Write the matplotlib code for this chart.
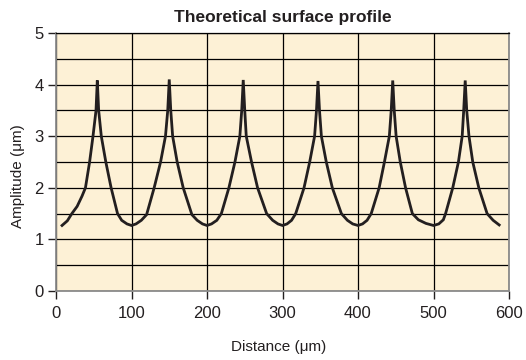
import matplotlib
matplotlib.use('Agg')
import matplotlib.pyplot as plt

# Perfil (distancia en um, amplitud en um)
distancia = [8, 15, 21, 28, 34.5, 39, 44.5, 49, 53, 54.7,
             56.5, 60, 66, 73, 81.5, 87, 94, 100, 106, 113, 120,
             130, 138.5, 145, 148, 150, 152, 154.5, 160.5, 168.5, 180,
             187, 194, 200, 206, 213, 219,
             229, 237, 243.5, 246, 248, 250, 252, 259, 267, 279,
             287, 294, 300, 306, 312, 317.5,
             328.5, 336, 342.5, 345, 347, 349, 351.5, 358, 366, 378,
             386, 393, 400, 406, 412, 417.5,
             428, 435, 441.5, 444, 446, 448, 450.5, 456, 463, 472,
             480, 490, 500, 507, 513, 516,
             525.5, 533, 538, 540, 542, 544, 547, 552, 560, 571,
             579, 587]
amplitud = [1.27, 1.36, 1.50, 1.64, 1.84, 2.0, 2.5, 3.0, 3.5, 4.08,
            3.5, 3.0, 2.5, 2.0, 1.5, 1.37, 1.30, 1.27, 1.30, 1.37, 1.48,
            2.0, 2.5, 3.0, 3.5, 4.10, 3.5, 3.0, 2.5, 2.0, 1.48,
            1.37, 1.30, 1.27, 1.30, 1.37, 1.5,
            2.0, 2.5, 3.0, 3.5, 4.09, 3.5, 3.0, 2.5, 2.0, 1.5,
            1.37, 1.30, 1.27, 1.30, 1.37, 1.5,
            2.0, 2.5, 3.0, 3.5, 4.07, 3.5, 3.0, 2.5, 2.0, 1.5,
            1.37, 1.30, 1.27, 1.30, 1.37, 1.5,
            2.0, 2.5, 3.0, 3.5, 4.08, 3.5, 3.0, 2.5, 2.0, 1.5,
            1.38, 1.31, 1.27, 1.30, 1.38, 1.5,
            2.0, 2.5, 3.0, 3.5, 4.08, 3.5, 3.0, 2.5, 2.0, 1.5,
            1.37, 1.28]

xticks = [0, 100, 200, 300, 400, 500, 600]
yticks = [0, 1, 2, 3, 4, 5]

fondo = '#fdf1d6'
tinta = '#231f20'

plt.rcParams['font.family'] = ['Liberation Sans', 'DejaVu Sans']

fig = plt.figure(figsize=(5.26, 3.6), dpi=100)
ax = fig.add_axes([56/526, 1 - 291/360, 453/526, 258/360])
ax.set_facecolor(fondo)

ax.plot(distancia, amplitud, color=tinta, lw=2.0, solid_joinstyle='miter', zorder=3)

ax.set_xlim(0, 600)
ax.set_ylim(0, 5)
ax.set_xticks(xticks)
ax.set_yticks(yticks)
ax.set_yticks([0.5, 1.5, 2.5, 3.5, 4.5], minor=True)
ax.grid(True, which='both', color='black', lw=0.9, zorder=1)
ax.set_axisbelow(True)

ax.tick_params(which='major', direction='out', length=6, width=1.0,
               color=tinta, labelcolor=tinta, labelsize=12)
ax.tick_params(axis='x', pad=4.5)
ax.tick_params(axis='y', pad=3)
ax.tick_params(which='minor', length=0)

for lado in ['left', 'bottom', 'right']:
    ax.spines[lado].set_color('#8a8a8a')
    ax.spines[lado].set_linewidth(1.3)
ax.spines['top'].set_color('black')
ax.spines['top'].set_linewidth(0.9)

ax.set_title('Theoretical surface profile', fontweight='bold',
             fontsize=12.5, color=tinta, pad=8)
ax.set_xlabel('Distance (μm)', fontsize=11, color=tinta)
ax.set_ylabel('Amplitude (μm)', fontsize=11, color=tinta)
ax.xaxis.set_label_coords(0.492, -0.19)
ax.yaxis.set_label_coords(-0.068, 0.446)

fig.savefig('out.png', dpi=100, facecolor='white')
